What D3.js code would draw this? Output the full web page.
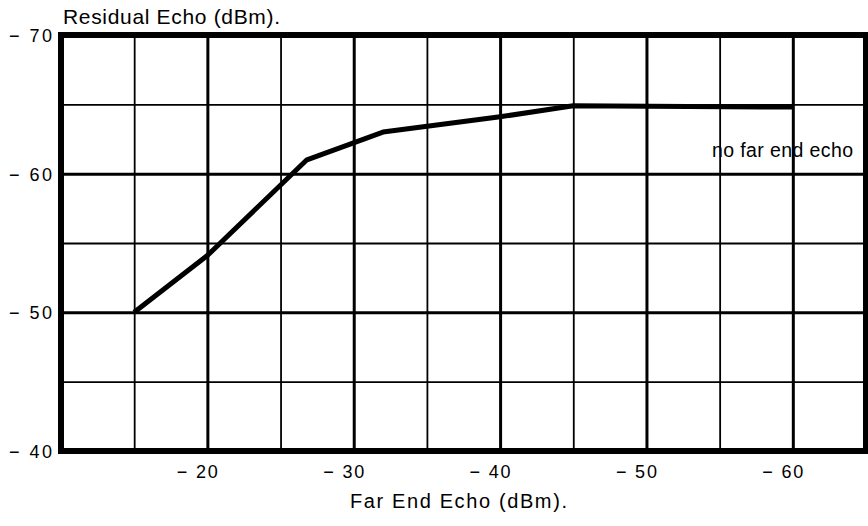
<!DOCTYPE html>
<html>
<head>
<meta charset="utf-8">
<script src="https://cdn.jsdelivr.net/npm/d3@7"></script>
<style>
    body { margin: 0; background: #fff; }
    text { font-family: "Liberation Sans", Arial, sans-serif; fill: #000; }
</style>
</head>
<body>
<svg id="chart" width="868" height="526"></svg>
<script>
// readings (dBm)
const farEndEcho = [-15, -20, -26.8, -32, -40, -45, -60];
const residualEcho = [-50, -54.1, -61, -63, -64.1, -64.9, -64.8];

const xGrid = [-15, -20, -25, -30, -35, -40, -45, -50, -55, -60];
const yGrid = [-65, -60, -55, -50, -45];
const xTicks = [-20, -30, -40, -50, -60];
const yTicks = [-70, -60, -50, -40];

const svg = d3.select("#chart");

const plot = { left: 61, right: 866, top: 35, bottom: 451 };

const x = d3.scaleLinear().domain([-10, -65]).range([plot.left, plot.right]);
const y = d3.scaleLinear().domain([-70, -40]).range([plot.top, plot.bottom]);

const fmt = d => "\u2212 " + Math.abs(d);
const major = d => d % 10 === 0;

// vertical grid
const gx = svg.append("g")
    .attr("transform", `translate(0,${plot.bottom})`)
    .call(d3.axisBottom(x).tickValues(xGrid).tickSize(-(plot.bottom - plot.top)).tickFormat(""));
gx.select(".domain").remove();
gx.selectAll("line")
    .attr("stroke", "#000")
    .attr("stroke-width", d => major(d) ? 3 : 1.8);

// horizontal grid
const gy = svg.append("g")
    .attr("transform", `translate(${plot.left},0)`)
    .call(d3.axisLeft(y).tickValues(yGrid).tickSize(-(plot.right - plot.left)).tickFormat(""));
gy.select(".domain").remove();
gy.selectAll("line")
    .attr("stroke", "#000")
    .attr("stroke-width", d => major(d) ? 3 : 1.8);

// frame
svg.append("rect")
    .attr("x", plot.left)
    .attr("y", plot.top)
    .attr("width", plot.right - plot.left)
    .attr("height", plot.bottom - plot.top)
    .attr("fill", "none")
    .attr("stroke", "#000")
    .attr("stroke-width", 6);

// tick labels
const xl = svg.append("g")
    .attr("transform", `translate(0,${plot.bottom})`)
    .call(d3.axisBottom(x).tickValues(xTicks).tickSize(0).tickFormat(fmt));
xl.select(".domain").remove();
xl.selectAll("text")
    .attr("text-anchor", "end")
    .attr("x", 10)
    .attr("y", 27)
    .attr("dy", null)
    .attr("font-size", 18)
    .attr("textLength", 41)
    .attr("lengthAdjust", "spacing");

const yl = svg.append("g")
    .call(d3.axisLeft(y).tickValues(yTicks).tickSize(0).tickFormat(fmt));
yl.select(".domain").remove();
yl.selectAll("text")
    .attr("text-anchor", "end")
    .attr("x", 52)
    .attr("y", 6.5)
    .attr("dy", null)
    .attr("font-size", 18)
    .attr("textLength", 43)
    .attr("lengthAdjust", "spacing");

// curve
const line = d3.line()
    .x((d, i) => x(farEndEcho[i]))
    .y(d => y(d));

svg.append("path")
    .datum(residualEcho)
    .attr("d", line)
    .attr("fill", "none")
    .attr("stroke", "#000")
    .attr("stroke-width", 5)
    .attr("stroke-linejoin", "round");

// titles
svg.append("text")
    .attr("x", 63)
    .attr("y", 24)
    .attr("font-size", 21)
    .attr("textLength", 217)
    .attr("lengthAdjust", "spacing")
    .text("Residual Echo (dBm).");

svg.append("text")
    .attr("x", 350)
    .attr("y", 508)
    .attr("font-size", 20)
    .attr("textLength", 217)
    .attr("lengthAdjust", "spacing")
    .text("Far End Echo (dBm).");

svg.append("text")
    .attr("x", 712)
    .attr("y", 157)
    .attr("font-size", 19.5)
    .attr("textLength", 141)
    .attr("lengthAdjust", "spacing")
    .text("no far end echo");
</script>
</body>
</html>
